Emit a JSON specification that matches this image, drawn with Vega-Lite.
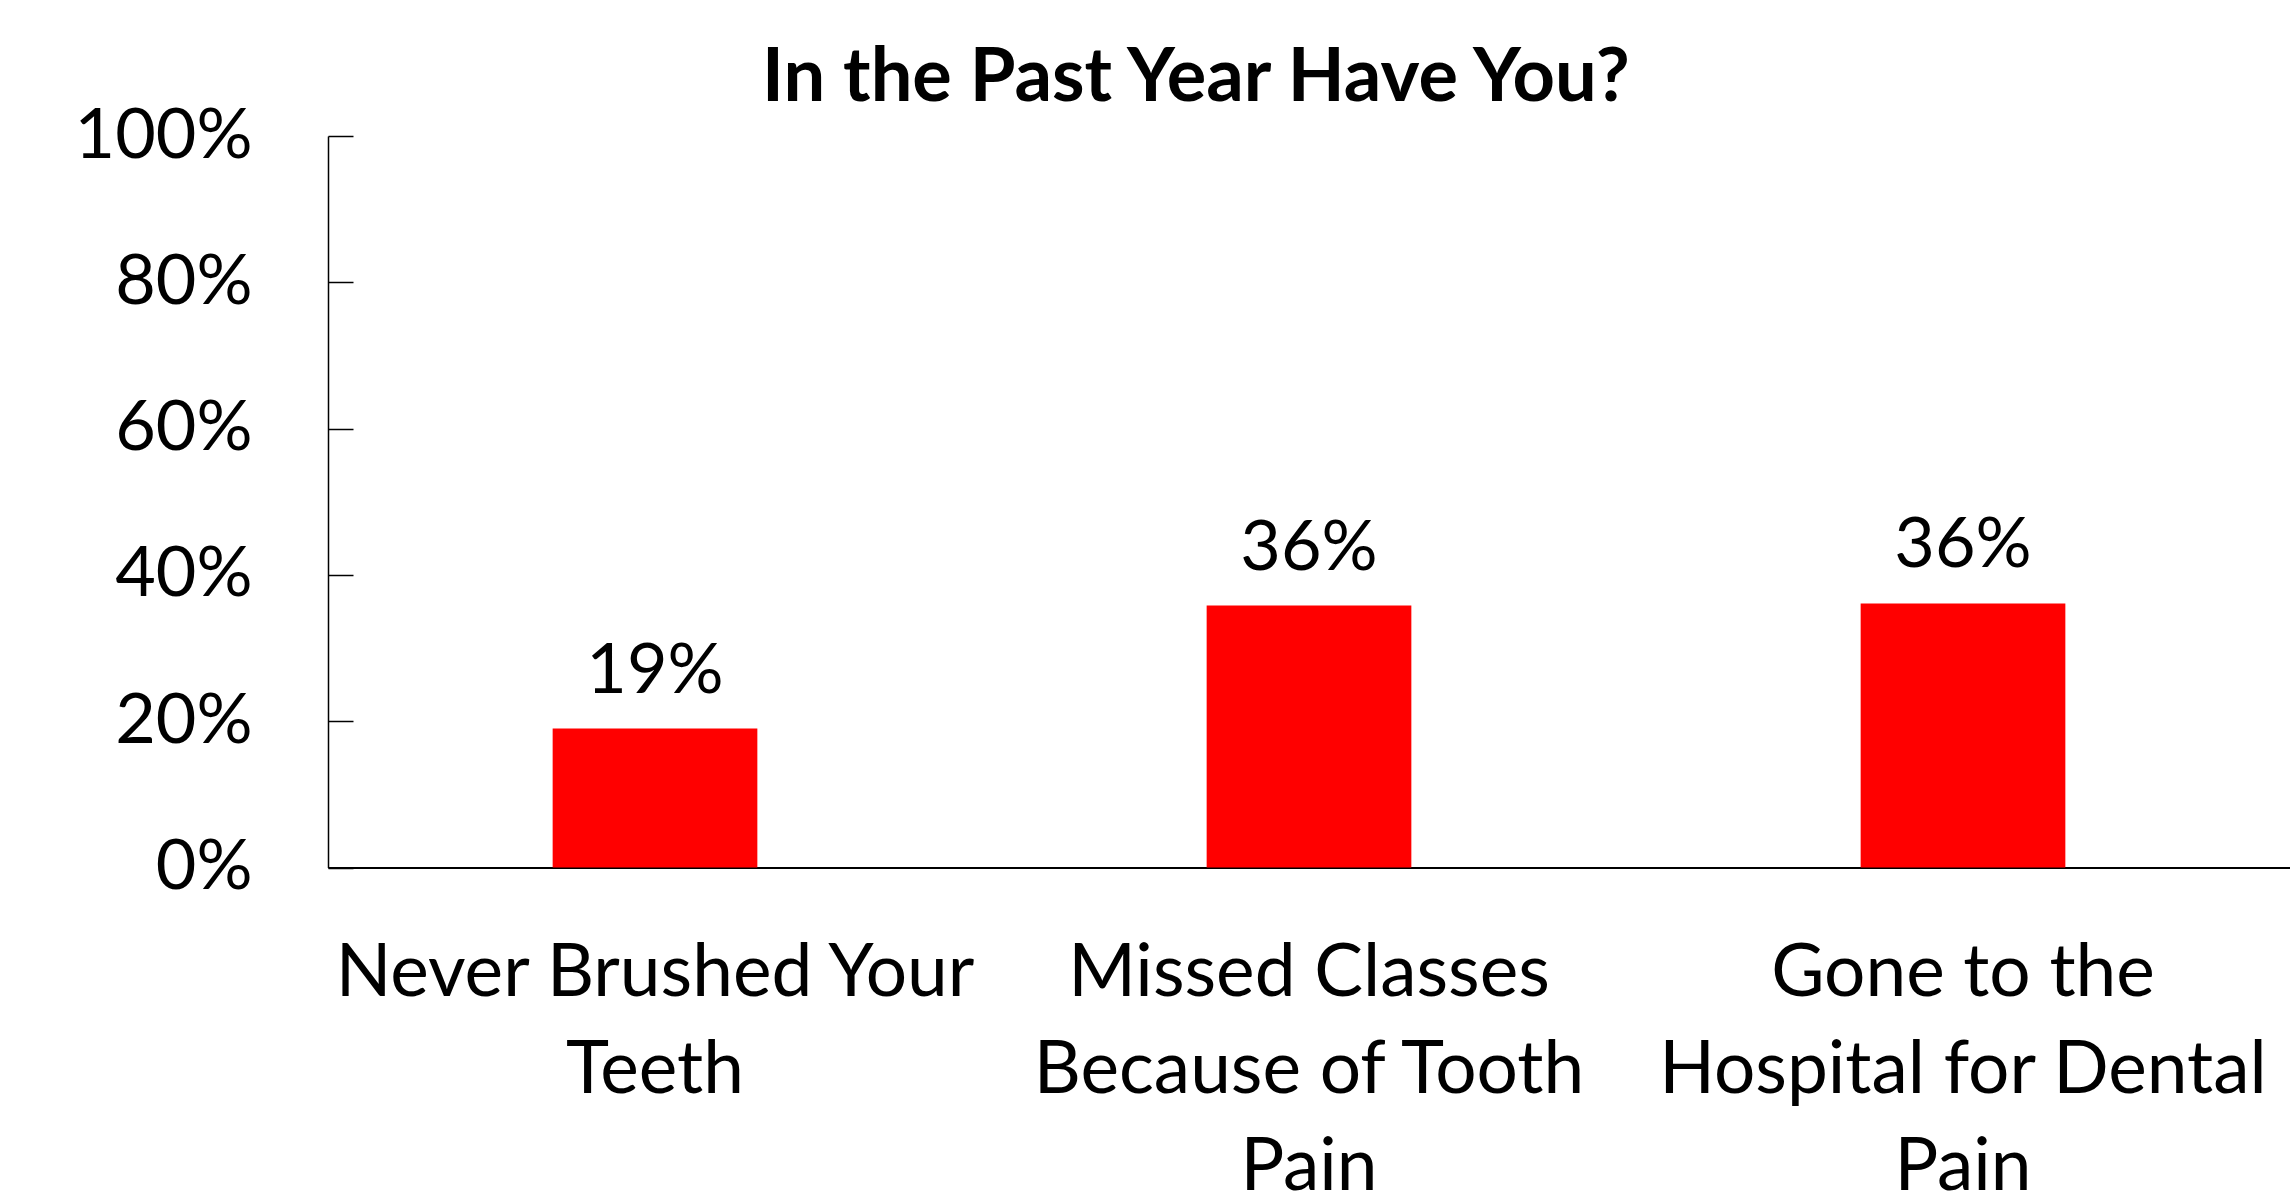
{
  "$schema": "https://vega.github.io/schema/vega-lite/v6.json",
  "width": 1962,
  "height": 731.5,
  "autosize": {"type": "none"},
  "padding": {"left": 328, "top": 136, "right": 0, "bottom": 325.5},
  "background": "white",
  "title": {
    "text": "In the Past Year Have You?",
    "anchor": "start",
    "frame": "group",
    "dx": 434,
    "dy": 105,
    "font": "Lato",
    "fontSize": 74,
    "fontWeight": "bold",
    "color": "black",
    "offset": 31,
    "baseline": "alphabetic"
  },
  "config": {"view": {"stroke": null}, "font": "Lato"},
  "data": {
    "values": [
      {"category": "Never Brushed Your|Teeth", "share": 0.19},
      {"category": "Missed Classes|Because of Tooth|Pain", "share": 0.358},
      {"category": "Gone to the|Hospital for Dental|Pain", "share": 0.361}
    ]
  },
  "encoding": {
    "x": {
      "field": "category",
      "type": "nominal",
      "sort": null,
      "scale": {"paddingInner": 0.687, "paddingOuter": 0.3435},
      "axis": {
        "title": null,
        "ticks": false,
        "domainColor": "black",
        "domainWidth": 2,
        "labelAngle": 0,
        "labelExpr": "split(datum.label, '|')",
        "labelFont": "Lato",
        "labelFontSize": 73,
        "labelLineHeight": 97,
        "labelBaseline": "top",
        "labelPadding": 70,
        "labelColor": "black",
        "labelLimit": 1000
      }
    },
    "y": {
      "field": "share",
      "type": "quantitative",
      "scale": {"domain": [0, 1]},
      "axis": {
        "title": null,
        "values": [0, 0.2, 0.4, 0.6, 0.8, 1],
        "format": ".0%",
        "grid": false,
        "domainColor": "black",
        "domainWidth": 1.5,
        "tickColor": "black",
        "tickWidth": 1.5,
        "tickSize": -25,
        "labelPadding": 101,
        "labelFont": "Lato",
        "labelFontSize": 70,
        "labelColor": "black"
      }
    }
  },
  "layer": [
    {"mark": {"type": "bar", "color": "#FF0000"}},
    {
      "mark": {"type": "text", "baseline": "alphabetic", "dy": -36, "fontSize": 70, "font": "Lato", "color": "black"},
      "encoding": {"text": {"field": "share", "format": ".0%"}}
    }
  ]
}
